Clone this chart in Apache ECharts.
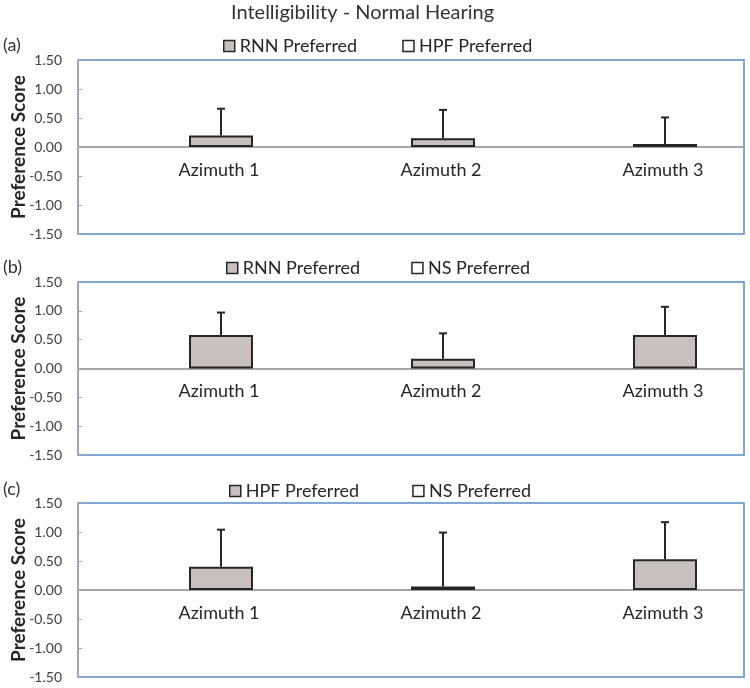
<!DOCTYPE html>
<html>
<head>
<meta charset="utf-8">
<script src="https://cdn.jsdelivr.net/npm/echarts@6/dist/echarts.min.js"></script>
<style>
html,body{margin:0;padding:0;background:#fff;}
#chart{width:750px;height:688px;}
</style>
</head>
<body>
<div id="chart"></div>
<script>
// ---- data ----
const chartTitle = 'Intelligibility - Normal Hearing';
const categories = ['Azimuth 1', 'Azimuth 2', 'Azimuth 3'];
const panelLabels = ['(a)', '(b)', '(c)'];
const yMin = -1.5, yMax = 1.5, yStep = 0.5;
const yAxisTitle = 'Preference Score';

const filledNames = ['RNN Preferred', 'RNN Preferred', 'HPF Preferred'];
const hollowNames = ['HPF Preferred', 'NS Preferred', 'NS Preferred'];

const scoresA = [0.20, 0.15, 0.05];
const errorsA = [0.46, 0.49, 0.46];
const scoresB = [0.58, 0.17, 0.58];
const errorsB = [0.39, 0.44, 0.49];
const scoresC = [0.40, 0.06, 0.53];
const errorsC = [0.64, 0.93, 0.64];
const hollowScores = [null, null, null];

// ---- styles / layout ----
const BAR_W = 64;
const FILL = '#c8c0be';
const DARK = '#262626';
const AXIS_GRAY = '#a6a6a6';
const FRAME = '#5b8bc5';
const FONT = 'Lato, "Open Sans", sans-serif';

const panels = [
  {scores: scoresA, errors: errorsA, top: 60, height: 174, legendTop: 37, legendLeft: 223, legendGap: 45, labelTop: 36},
  {scores: scoresB, errors: errorsB, top: 282, height: 173, legendTop: 259, legendLeft: 226, legendGap: 51, labelTop: 258},
  {scores: scoresC, errors: errorsC, top: 503, height: 174, legendTop: 482, legendLeft: 229, legendGap: 53, labelTop: 480}
];

const titles = [{
  text: chartTitle, left: 231, top: 3, padding: 0,
  textStyle: {fontSize: 20, fontWeight: 'normal', color: '#333', fontFamily: FONT}
}];
const grids = [], xAxes = [], yAxes = [], legends = [], series = [];

panels.forEach((p, i) => {
  titles.push({
    text: panelLabels[i], left: 3, top: p.labelTop, padding: 0,
    textStyle: {fontSize: 18, fontWeight: 'normal', color: '#333', fontFamily: FONT}
  });
  grids.push({
    left: 78, right: 6, top: p.top, height: p.height, outerBoundsMode: 'none',
    show: true, borderColor: FRAME, borderWidth: 1.5, backgroundColor: 'transparent'
  });
  // labels sit just under the zero line (middle of the panel)
  const zeroOffset = p.height * (yMin / (yMin - yMax));
  xAxes.push({
    type: 'category', gridIndex: i, data: categories,
    axisLine: {onZero: true, lineStyle: {color: AXIS_GRAY, width: 2}},
    axisTick: {show: false},
    axisLabel: {fontSize: 18, color: DARK, margin: 14 - zeroOffset, padding: [0, 0, 0, 60], fontFamily: FONT},
    splitLine: {show: false}
  });
  yAxes.push({
    type: 'value', gridIndex: i, min: yMin, max: yMax, interval: yStep,
    name: yAxisTitle, nameLocation: 'middle', nameGap: 50, nameMoveOverlap: false,
    nameTextStyle: {fontSize: 19, fontWeight: 'bold', color: DARK, fontFamily: FONT},
    axisLine: {show: true, onZero: false, lineStyle: {color: AXIS_GRAY, width: 1.5}},
    axisTick: {show: true, inside: true, length: 4, lineStyle: {color: AXIS_GRAY}},
    axisLabel: {formatter: v => v.toFixed(2), fontSize: 14, color: '#404040', margin: 16, fontFamily: FONT},
    splitLine: {show: false}
  });
  legends.push({
    top: p.legendTop, left: p.legendLeft, itemGap: p.legendGap, padding: 0,
    itemWidth: 11, itemHeight: 11, icon: 'rect', selectedMode: false,
    textStyle: {fontSize: 18, color: DARK, fontFamily: FONT},
    data: [
      {name: filledNames[i], itemStyle: {color: FILL, borderColor: DARK, borderWidth: 1.5}},
      {name: hollowNames[i], itemStyle: {color: '#fff', borderColor: DARK, borderWidth: 1.5}}
    ]
  });
  // hollow (empty) series occupies the left slot of each cluster
  series.push({
    type: 'bar', name: hollowNames[i], xAxisIndex: i, yAxisIndex: i,
    data: hollowScores, barWidth: BAR_W, barGap: '0%',
    itemStyle: {color: '#fff', borderColor: DARK, borderWidth: 2}
  });
  series.push({
    type: 'bar', name: filledNames[i], xAxisIndex: i, yAxisIndex: i,
    data: p.scores, barWidth: BAR_W, barGap: '0%',
    itemStyle: {color: FILL, borderColor: DARK, borderWidth: 2}
  });
  series.push({
    type: 'custom', name: 'err' + i, xAxisIndex: i, yAxisIndex: i, z: 5,
    data: p.scores.map((v, k) => [k, v, v + p.errors[k]]),
    renderItem: function (params, api) {
      const base = api.coord([api.value(0), api.value(1)]);
      const top = api.coord([api.value(0), api.value(2)]);
      const x = base[0] + BAR_W / 2;
      const style = {stroke: DARK, lineWidth: 2};
      return {
        type: 'group',
        children: [
          {type: 'line', shape: {x1: x, y1: base[1], x2: x, y2: top[1]}, style: style},
          {type: 'line', shape: {x1: x - 4, y1: top[1], x2: x + 4, y2: top[1]}, style: style}
        ]
      };
    }
  });
});

const chart = echarts.init(document.getElementById('chart'), null, {renderer: 'canvas'});
chart.setOption({
  backgroundColor: '#fff',
  animation: false,
  textStyle: {fontFamily: FONT},
  title: titles,
  grid: grids,
  xAxis: xAxes,
  yAxis: yAxes,
  legend: legends,
  series: series
});
</script>
</body>
</html>
